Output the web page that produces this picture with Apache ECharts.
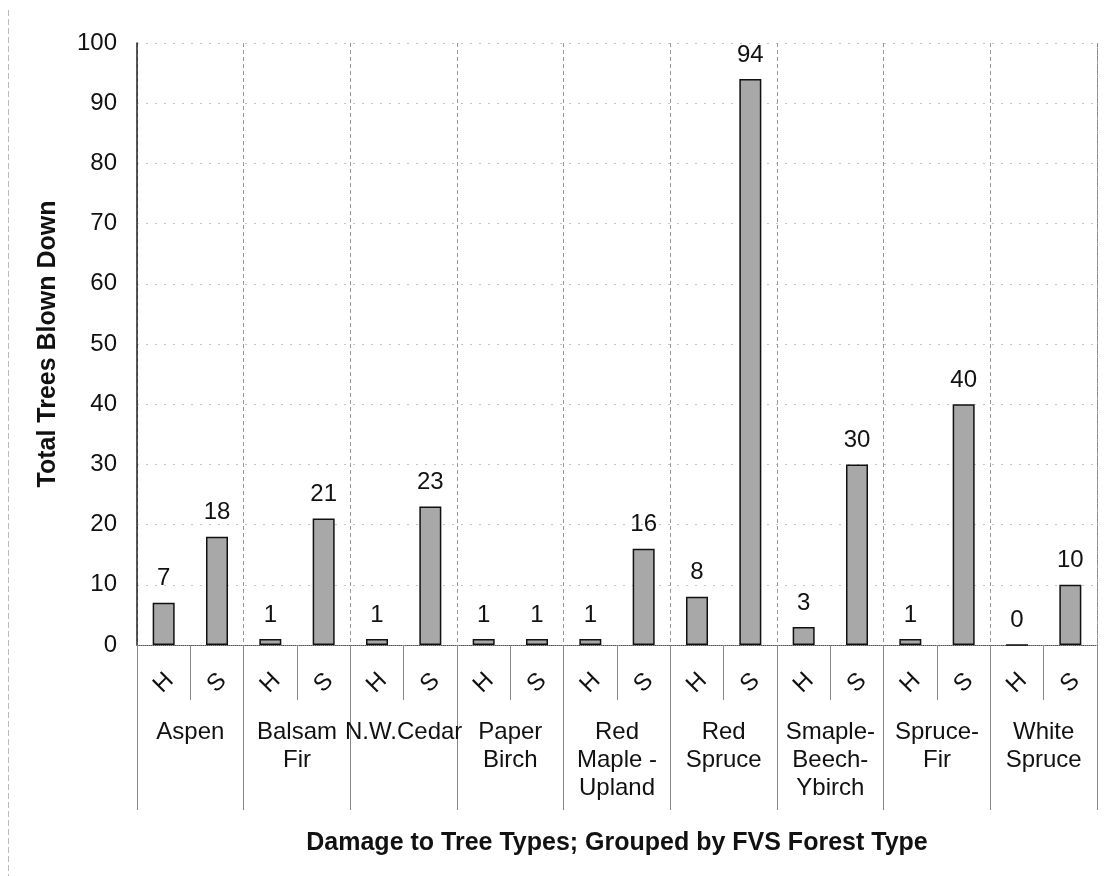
<!DOCTYPE html>
<html><head><meta charset="utf-8">
<script src="https://cdn.jsdelivr.net/npm/echarts@6/dist/echarts.min.js"></script>
<style>html,body{margin:0;padding:0;background:#fff}#c{width:1104px;height:876px}</style>
</head><body><div id="c"></div>
<script>
var groups = ["Aspen","Balsam\nFir","N.W.Cedar","Paper\nBirch","Red\nMaple -\nUpland","Red\nSpruce","Smaple-\nBeech-\nYbirch","Spruce-\nFir","White\nSpruce"];
var subCats = ["H","S"];
var hValues = [7,1,1,1,1,8,3,1,0];
var sValues = [18,21,23,1,16,94,30,40,10];
var yTicks = {min:0, max:100, interval:10};

var cats = [], vals = [];
for (var i = 0; i < groups.length; i++) {
  cats.push(subCats[0]); vals.push(hValues[i]);
  cats.push(subCats[1]); vals.push(sValues[i]);
}
var font = "Liberation Sans";
var chart = echarts.init(document.getElementById('c'));
chart.setOption({
  animation:false,
  textStyle:{fontFamily:font},
  grid:{left:137, right:7, top:43, bottom:231},
  graphic:[{type:'line', shape:{x1:8.5,y1:10,x2:8.5,y2:876}, style:{stroke:'#bbb', lineWidth:1, lineDash:[6,3]}, silent:true}],
  xAxis:[{
    type:'category', data:cats, position:'bottom',
    axisLine:{show:true, lineStyle:{color:'#555', type:'dotted', width:1}},
    axisTick:{show:true, interval:0, length:55, lineStyle:{color:'#888', width:1}},
    axisLabel:{interval:0, rotate:45, align:'center', verticalAlign:'middle', margin:38, fontSize:24, color:'#111', fontFamily:font},
    splitLine:{show:false}
  },{
    type:'category', data:groups, position:'bottom', offset:0,
    axisLine:{show:false},
    axisTick:{show:true, interval:0, length:165, lineStyle:{color:'#888', width:1}},
    axisLabel:{interval:0, margin:73, fontSize:24, lineHeight:28, color:'#111', fontFamily:font},
    splitLine:{show:true, interval:0, lineStyle:{color:'#999', type:[4,3], width:1}},
    name:'Damage to Tree Types; Grouped by FVS Forest Type',
    nameLocation:'middle', nameGap:186,
    nameTextStyle:{fontSize:25, fontWeight:'bold', color:'#111', fontFamily:font}
  }],
  yAxis:[{
    type:'value', min:yTicks.min, max:yTicks.max, interval:yTicks.interval,
    axisLine:{show:true, lineStyle:{color:'#222', width:1.5}},
    axisTick:{show:false},
    axisLabel:{fontSize:24, color:'#111', margin:20, fontFamily:font},
    splitLine:{show:true, lineStyle:{color:'#c4c4c4', type:[2,7], width:1}},
    name:'Total Trees Blown Down', nameLocation:'middle', nameGap:76,
    nameTextStyle:{fontSize:25, fontWeight:'bold', color:'#111', fontFamily:font}
  },{
    type:'value', position:'right', min:yTicks.min, max:yTicks.max, interval:yTicks.interval,
    axisLine:{show:true, lineStyle:{color:'#888', type:'dotted', width:1}},
    axisTick:{show:false}, axisLabel:{show:false}, splitLine:{show:false}
  }],
  series:[{
    type:'bar', data:vals, xAxisIndex:0, yAxisIndex:0, barWidth:22,
    itemStyle:{color:'#a8a8a8', borderColor:'#111', borderWidth:1.5},
    label:{show:true, position:'top', distance:12, fontSize:24, color:'#111', fontFamily:font}
  }]
});
</script></body></html>
